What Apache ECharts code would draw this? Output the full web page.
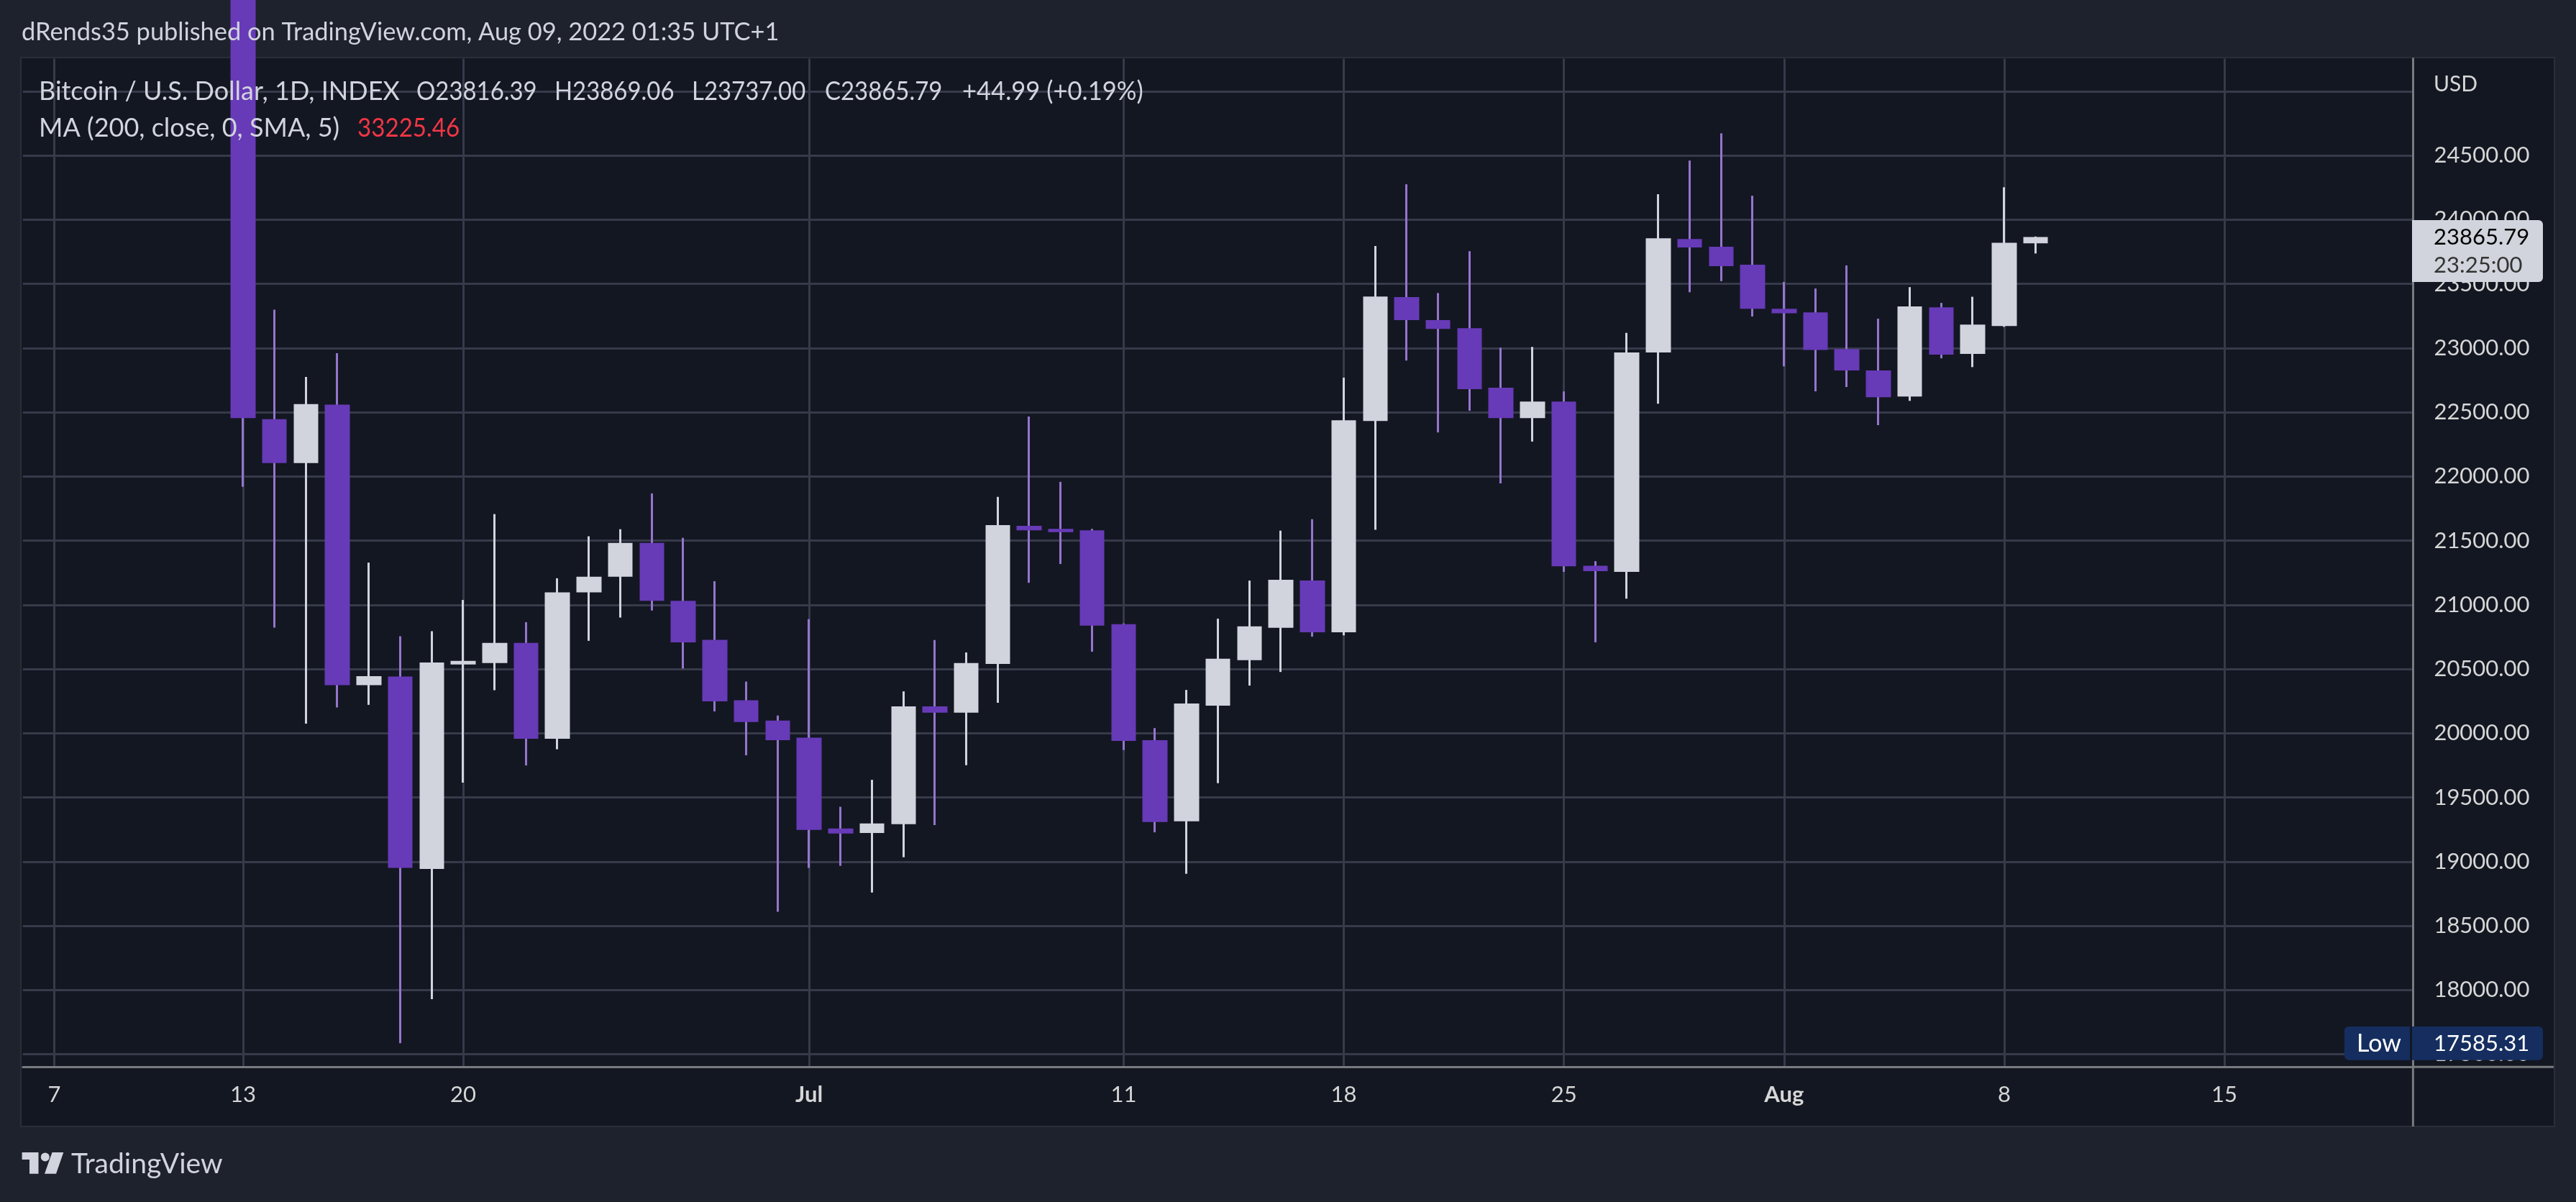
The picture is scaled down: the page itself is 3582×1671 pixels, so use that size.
<!DOCTYPE html>
<html lang="en">
<head>
  <meta charset="UTF-8">
  <title>BTCUSD 1D</title>
  <style>
    html, body { margin: 0; padding: 0; background: #1e222d; }
    #main { width: 3582px; height: 1671px; }
  </style>
</head>
<body>
  <div id="main"></div>
  <script src="https://cdn.jsdelivr.net/npm/echarts@6/dist/echarts.min.js"></script>
  <script>
    // daily candles, 13 Jun - 9 Aug 2022
    const firstCandle = '2022-06-13'
    const opens = [26570, 22446, 22104, 22560, 20374, 20441, 18943, 20535, 20547, 20704, 19957, 21097, 21219, 21483, 21031, 20728, 20256, 20099,
      19965, 19258, 19223, 19291, 20209, 20160, 20540, 21615, 21592, 21581, 20849, 19946, 19314, 20214, 20569, 20821, 21189, 20786, 22432, 23398, 23218, 23155, 22692, 22455, 22583, 21305, 21257, 22966, 23850, 23790, 23650,
      23306, 23278, 22992, 22826, 22623, 23318, 22955, 23172, 23816.39]
    const closes = [22454, 22104, 22564, 20374, 20445, 18951, 20551, 20563, 20704, 19957, 21097, 21219, 21483, 21031, 20708, 20248, 20087, 19946,
      19246, 19218, 19297, 20209, 20160, 20546, 21621, 21581, 21566, 20838, 19940, 19308, 20232, 20580, 20832, 21195, 20786, 22438, 23401, 23218, 23149, 22680, 22455, 22583, 21300, 21262, 22966, 23855, 23784, 23638, 23306,
      23272, 22986, 22826, 22617, 23324, 22949, 23183, 23821, 23865.79]
    const lows = [21919, 20822, 20075, 20201, 20221, 17585.31, 17929, 19615, 20335, 19749, 19875, 20720, 20901, 20956, 20504, 20170, 19828, 18609,
      18951, 18967, 18759, 19034, 19285, 19751, 20237, 21172, 21318, 20635, 19869, 19228, 18905, 19611, 20371, 20477, 20752, 20763, 21585, 22903, 22343, 22512, 21946, 22272, 21257, 20708, 21048, 22566, 23435, 23521, 23246,
      22858, 22663, 22697, 22400, 22589, 22920, 22852, 23166, 23737]
    const highs = [26880, 23299, 22776, 22961, 21329, 20755, 20795, 21038, 21707, 20865, 21207, 21534, 21589, 21868, 21522, 21184, 20402, 20138,
      20889, 19427, 19637, 20326, 20726, 20629, 21841, 22467, 21958, 21592, 20855, 20040, 20337, 20892, 21189, 21578, 21667, 22770, 23795, 24276, 23429, 23755, 23003, 23009, 22663, 21340, 23118, 24198, 24461, 24673, 24187,
      23515, 23464, 23644, 23229, 23475, 23352, 23400, 24253, 23869.06]

    const tickDates = ['2022-06-07', '2022-06-13', '2022-06-20', '2022-07-01', '2022-07-11', '2022-07-18', '2022-07-25', '2022-08-01', '2022-08-08', '2022-08-15']
    const tickLabels = ['7', '13', '20', 'Jul', '11', '18', '25', 'Aug', '8', '15']
    const priceTicks = [17500, 18000, 18500, 19000, 19500, 20000, 20500, 21000, 21500, 22000, 22500, 23000, 23500, 24000, 24500]

    const lastPrice = 23865.79
    const lowPrice = 17585.31

    const FONT = 'Lato'
    const BG = '#1e222d'
    const PANEL = '#131722'
    const GRID = '#363a4a'
    const AXIS = '#787b7e'
    const TEXT = '#d1d4dc'
    const UP = '#d1d4dc'
    const DOWN = '#673ab7'
    const DOWN_WICK = '#9575cd'

    // calendar days on the time scale
    const days = []
    for (let t = Date.UTC(2022, 5, 6); t <= Date.UTC(2022, 7, 21); t += 86400000) {
      days.push(new Date(t).toISOString().slice(0, 10))
    }
    const offset = days.indexOf(firstCandle)
    const empty = ['-', '-', '-', '-']

    function wickRow(d, i) {
      const j = i - offset
      return j >= 0 && j < opens.length ? [opens[j], closes[j], lows[j], highs[j]] : empty
    }
    function bodyRow(d, i) {
      const j = i - offset
      if (j < 0 || j >= opens.length) return empty
      return [opens[j], closes[j], Math.min(opens[j], closes[j]), Math.max(opens[j], closes[j])]
    }
    const isTick = (i, v) => tickDates.includes(v)

    const myChart = echarts.init(document.getElementById('main'))

    const option = {
      animation: false,
      backgroundColor: BG,
      textStyle: { fontFamily: FONT },
      grid: { left: 31.8, top: 81.4, width: 3323.6, height: 1401.9 },
      xAxis: {
        type: 'category',
        data: days,
        boundaryGap: false,
        axisLine: { lineStyle: { color: AXIS, width: 3 } },
        axisTick: { show: false },
        axisLabel: {
          interval: isTick,
          margin: 23,
          fontFamily: FONT,
          fontSize: 31,
          color: '#d6d6d6',
          formatter: v => {
            const s = tickLabels[tickDates.indexOf(v)]
            return isNaN(s) ? '{m|' + s + '}' : s
          },
          rich: { m: { fontFamily: FONT, fontSize: 31, fontWeight: 'bold', color: '#d6d6d6' } }
        },
        splitLine: { show: true, interval: isTick, lineStyle: { color: GRID, width: 3 } }
      },
      yAxis: {
        type: 'value',
        position: 'right',
        min: 17400,
        max: 25255.5,
        minInterval: 500,
        maxInterval: 500,
        axisLine: { show: true, lineStyle: { color: AXIS, width: 3 } },
        axisTick: { show: false },
        axisLabel: {
          customValues: priceTicks,
          margin: 29,
          fontFamily: FONT,
          fontSize: 31,
          color: '#d6d6d6',
          formatter: v => v.toFixed(2)
        },
        splitLine: { show: true, showMinLine: false, showMaxLine: false, lineStyle: { color: GRID, width: 3 } }
      },
      series: [
        {
          // thin candle = just the high-low wick
          type: 'candlestick',
          name: 'wick',
          barWidth: 0,
          data: days.map(wickRow),
          itemStyle: { color: UP, color0: DOWN_WICK, borderColor: UP, borderColor0: DOWN_WICK, borderWidth: 3 }
        },
        {
          type: 'candlestick',
          name: 'body',
          barWidth: 35,
          data: days.map(bodyRow),
          itemStyle: { color: UP, color0: DOWN, borderColor: UP, borderColor0: DOWN, borderWidth: 0 }
        }
      ],
      graphic: []
    }

    myChart.setOption(option)

    // tags sit on the price scale, so ask the axis where they go
    const lastY = myChart.convertToPixel({ yAxisIndex: 0 }, lastPrice)
    const lowY = myChart.convertToPixel({ yAxisIndex: 0 }, lowPrice)

    function txt(x, y, text, size, fill, squeeze) {
      return {
        type: 'text', x: x, y: y, z: 60, scaleX: squeeze || 1,
        style: { text: text, fontFamily: FONT, fontSize: size, fill: fill, verticalAlign: 'middle', align: 'left' }
      }
    }
    function vline(x, y1, y2, color) {
      return { type: 'line', z: 40, shape: { x1: x, y1: y1, x2: x, y2: y2 }, style: { stroke: color, lineWidth: 3 } }
    }

    myChart.setOption({
      graphic: [
        // panel behind the plot
        { type: 'rect', z: -10, shape: { x: 29, y: 80, width: 3523, height: 1486 }, style: { fill: PANEL, stroke: '#2a2e39', lineWidth: 2 } },
        // axis lines carry on past the plot
        vline(3355.4, 1483, 1566, AXIS),
        { type: 'line', z: 40, shape: { x1: 3355, y1: 1483.3, x2: 3551, y2: 1483.3 }, style: { stroke: AXIS, lineWidth: 3 } },

        txt(30, 45, 'dRends35 published on TradingView.com, Aug 09, 2022 01:35 UTC+1', 34.4, TEXT),
        // legend letters run wider than its digits in the original font
        txt(54, 127, 'Bitcoin / U.S. Dollar, 1D, INDEX', 36, TEXT),
        txt(579, 127, 'O23816.39', 36, TEXT, 0.914),
        txt(771, 127, 'H23869.06', 36, TEXT, 0.914),
        txt(962, 127, 'L23737.00', 36, TEXT, 0.914),
        txt(1147, 127, 'C23865.79', 36, TEXT, 0.914),
        txt(1338, 127, '+44.99 (+0.19%)', 36, TEXT, 0.96),
        txt(54, 178, 'MA (200, close, 0, SMA, 5)', 36, TEXT),
        txt(497, 178, '33225.46', 36, '#f23645', 0.92),
        txt(3384, 117, 'USD', 30, '#d6d6d6'),

        // last price tag
        { type: 'rect', z: 50, shape: { x: 3354, y: lastY - 23.5, width: 182, height: 86, r: [0, 6, 6, 0] }, style: { fill: UP } },
        txt(3384, lastY + 0.5, '23865.79', 31, '#000000'),
        txt(3384, lastY + 39.5, '23:25:00', 31, '#333333'),

        // low tag
        { type: 'rect', z: 50, shape: { x: 3260, y: lowY - 23.2, width: 276, height: 46.6, r: 6 }, style: { fill: '#152e5f' } },
        { type: 'line', z: 55, shape: { x1: 3352.5, y1: lowY - 23.2, x2: 3352.5, y2: lowY + 23.4 }, style: { stroke: PANEL, lineWidth: 3 } },
        txt(3277, lowY + 1, 'Low', 34, '#ffffff'),
        txt(3384, lowY + 1, '17585.31', 31, '#ffffff'),

        // TradingView logo
        { type: 'polygon', z: 60, shape: { points: [[30.6, 1602], [53.5, 1602], [53.5, 1631.7], [41, 1631.7], [41, 1612], [30.6, 1612]] }, style: { fill: UP } },
        { type: 'circle', z: 60, shape: { cx: 62.8, cy: 1608.5, r: 6 }, style: { fill: UP } },
        { type: 'polygon', z: 60, shape: { points: [[72.5, 1602], [88.3, 1602], [78, 1631.7], [62, 1631.7]] }, style: { fill: UP } },
        txt(99, 1618, 'TradingView', 39, TEXT)
      ]
    })
  </script>
</body>
</html>
